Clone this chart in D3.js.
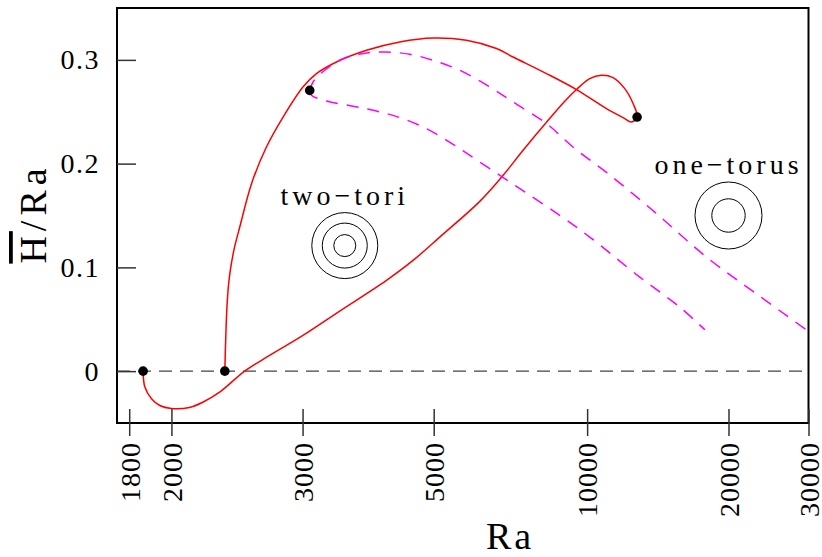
<!DOCTYPE html>
<html>
<head>
<meta charset="utf-8">
<script src="https://cdn.jsdelivr.net/npm/d3@7"></script>
<style>
  html, body { margin: 0; padding: 0; background: #fff; }
  svg { display: block; }
  text { font-family: "Liberation Serif", "DejaVu Serif", serif; fill: #000; }
</style>
</head>
<body>
<svg id="chart" width="822" height="557"></svg>
<script>
// ---- axis settings ----
const xTicks = [1800, 2000, 3000, 5000, 10000, 20000, 30000];
const yTicks = [0, 0.1, 0.2, 0.3];
const yTickLabels = ["0", "0.1", "0.2", "0.3"];
const RA_SHIFT = 1000;            // horizontal axis is logarithmic in (Ra - 1000)
const raDomain = [1750, 30000];
const hDomain = [-0.05, 0.35];

// ---- solid branch starting at the lower onset point ----
const lowerRa = [1861, 1869, 1900, 1940, 2000, 2100, 2180, 2290, 2473, 2680, 3004, 3434,
                 4116, 4586, 5130, 6103, 6772, 7415, 8194, 8996, 9508, 10124, 10707, 11323,
                 11980, 12474, 12719];
const lowerH  = [0, -0.0154, -0.0266, -0.0331, -0.036, -0.035, -0.030, -0.0203, 0, 0.0151, 0.0344, 0.0579,
                 0.0875, 0.1067, 0.1292, 0.1636, 0.1887, 0.2128, 0.2379, 0.2601, 0.2714, 0.282, 0.2851, 0.2829,
                 0.2723, 0.2579, 0.2449];

// ---- solid branch starting at the upper onset point ----
const upperRa = [2326, 2332, 2341, 2352, 2365, 2394, 2435, 2527, 2652, 2804, 3004, 3152, 3392,
                 3804, 4343, 4987, 5756, 6575, 7084, 8259, 9508, 10968, 11881, 12376, 12719];
const upperH  = [0, 0.0296, 0.0617, 0.0826, 0.0971, 0.1183, 0.1389, 0.1807, 0.216, 0.2449, 0.2739, 0.2868, 0.298,
                 0.3093, 0.3173, 0.3211, 0.3189, 0.3109, 0.3028, 0.2868, 0.2714, 0.253, 0.2444, 0.2401, 0.2449];

// ---- dashed branches leaving the secondary bifurcation ----
const dashUpperRa = [3077, 3114, 3248, 3477, 3804, 4116, 4524, 4987, 5590, 6379, 7084, 8259, 9432,
                     10968, 13987, 17917, 23028, 29927];
const dashUpperH  = [0.2706, 0.2787, 0.29, 0.3012, 0.3067, 0.3076, 0.3054, 0.2996, 0.29, 0.2739, 0.2594, 0.2386, 0.2145,
                     0.1916, 0.1518, 0.1099, 0.0745, 0.0386];
const dashLowerRa = [3077, 3096, 3269, 3612, 3955, 4343, 4850, 5431, 6103, 7305, 8787, 10124, 12889, 15688, 17766];
const dashLowerH  = [0.2706, 0.2659, 0.2604, 0.2553, 0.2507, 0.2444, 0.2337, 0.2186, 0.2015, 0.1759, 0.1501, 0.1292,
                     0.0906, 0.0617, 0.0399];

// ---- bifurcation points ----
const dotRa = [1861, 2326, 3077, 12719];
const dotH  = [0, 0, 0.2706, 0.2449];

// ---- flow-pattern annotations ----
const noteText = ["two\u2212tori", "one\u2212torus"];
const noteRa   = [3500, 20000];
const noteH    = [0.16, 0.19];
const ringRa   = [3500, 20000];
const ringH    = [0.121, 0.150];
const ringRadii = [[11, 22.5, 33], [16.7, 33.5]];

// ---- layout ----
const W = 822, H = 557;
const margin = { left: 117, top: 8, right: 13.5, bottom: 134 };
const svg = d3.select("#chart");

const xs = d3.scaleLog()
  .domain(raDomain.map(v => v - RA_SHIFT))
  .range([margin.left, W - margin.right]);
const x = ra => xs(ra - RA_SHIFT);
const y = d3.scaleLinear().domain(hDomain).range([H - margin.bottom, margin.top]);

const plot = svg.append("g");
plot.append("clipPath").attr("id", "clip")
  .append("rect")
  .attr("x", margin.left).attr("y", margin.top)
  .attr("width", W - margin.left - margin.right)
  .attr("height", H - margin.top - margin.bottom);

// zero reference line
plot.append("line")
  .attr("x1", x(raDomain[0])).attr("x2", x(raDomain[1]))
  .attr("y1", y(0)).attr("y2", y(0))
  .attr("stroke", "#444").attr("stroke-width", 1.4)
  .attr("stroke-dasharray", "13,8");

const line = d3.line()
  .x(d => x(d[0])).y(d => y(d[1]))
  .curve(d3.curveCatmullRom.alpha(0.5));

const zip = (a, b) => a.map((v, i) => [v, b[i]]);

// solid red curve: lower branch, through the fold, back along the upper branch
const solid = zip(lowerRa, lowerH).concat(zip(upperRa, upperH).reverse().slice(1));
const curves = plot.append("g").attr("clip-path", "url(#clip)");
curves.append("path")
  .attr("d", line(solid))
  .attr("fill", "none").attr("stroke", "#ff0000").attr("stroke-width", 1.5);

[zip(dashUpperRa, dashUpperH), zip(dashLowerRa, dashLowerH)].forEach(pts => {
  curves.append("path")
    .attr("d", line(pts))
    .attr("fill", "none").attr("stroke", "#ff00ff").attr("stroke-width", 1.5)
    .attr("stroke-dasharray", "12,9");
});

// bifurcation points
plot.selectAll("circle.dot")
  .data(zip(dotRa, dotH))
  .join("circle").attr("class", "dot")
  .attr("cx", d => x(d[0])).attr("cy", d => y(d[1]))
  .attr("r", 4.8).attr("fill", "#000");

// annotations
noteText.forEach((t, i) => {
  plot.append("text")
    .attr("x", x(noteRa[i])).attr("y", y(noteH[i]))
    .attr("text-anchor", "middle")
    .style("font-size", "28px").style("letter-spacing", "4px")
    .text(t);
  ringRadii[i].forEach(r => {
    plot.append("circle")
      .attr("cx", x(ringRa[i])).attr("cy", y(ringH[i]))
      .attr("r", r).attr("fill", "none")
      .attr("stroke", "#000").attr("stroke-width", 1);
  });
});

// frame
svg.append("rect")
  .attr("x", margin.left).attr("y", margin.top)
  .attr("width", W - margin.left - margin.right)
  .attr("height", H - margin.top - margin.bottom)
  .attr("fill", "none").attr("stroke", "#000").attr("stroke-width", 2);

// x axis
const xAxis = svg.append("g")
  .attr("transform", `translate(0,${H - margin.bottom})`)
  .call(d3.axisBottom(xs)
    .tickValues(xTicks.map(v => v - RA_SHIFT))
    .tickFormat(v => String(Math.round(v + RA_SHIFT)))
    .tickSizeOuter(0));
xAxis.select(".domain").remove();
xAxis.selectAll(".tick line")
  .attr("y1", -14).attr("y2", 13)
  .attr("stroke", "#333").attr("stroke-width", 1.5);
xAxis.selectAll(".tick text")
  .attr("transform", "rotate(-90)")
  .attr("x", -19).attr("y", 0).attr("dy", "0.35em")
  .style("text-anchor", "end")
  .style("font-family", '"Liberation Serif", serif')
  .style("font-size", "28px")
  .style("letter-spacing", "1px")
  .attr("fill", "#000");

// y axis
const yAxis = svg.append("g")
  .attr("transform", `translate(${margin.left},0)`)
  .call(d3.axisLeft(y)
    .tickValues(yTicks)
    .tickFormat((d, i) => yTickLabels[i])
    .tickSize(-19).tickPadding(17));
yAxis.select(".domain").remove();
yAxis.selectAll(".tick line").attr("stroke", "#333").attr("stroke-width", 1.5);
yAxis.selectAll(".tick text")
  .style("font-family", '"Liberation Serif", serif')
  .style("font-size", "28px")
  .style("letter-spacing", "1.5px")
  .attr("fill", "#000");

// axis titles
svg.append("text")
  .attr("x", 510).attr("y", 549)
  .attr("text-anchor", "middle")
  .style("font-size", "38px").style("letter-spacing", "3px")
  .text("Ra");

const yTitle = svg.append("text")
  .attr("transform", `translate(46,${(margin.top + H - margin.bottom) / 2 - 2}) rotate(-90)`)
  .attr("text-anchor", "middle")
  .style("font-size", "38px").style("letter-spacing", "5px");
yTitle.append("tspan").style("text-decoration", "overline").text("H");
yTitle.append("tspan").text("/Ra");
</script>
</body>
</html>
